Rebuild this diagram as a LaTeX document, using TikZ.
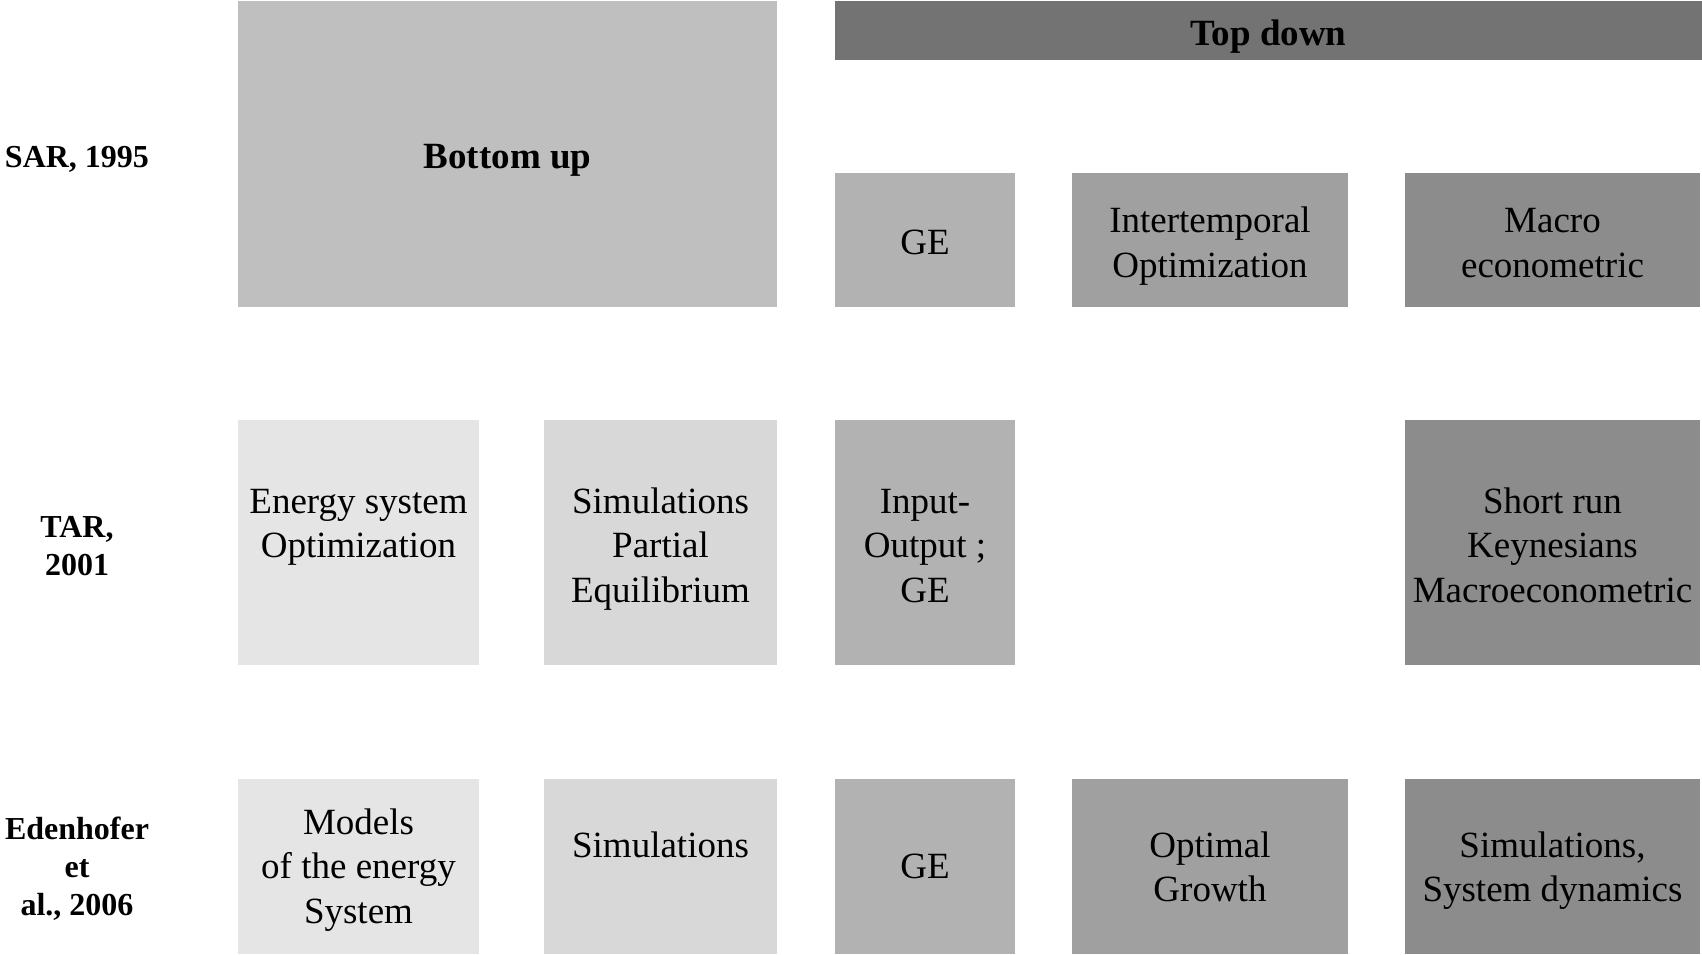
\documentclass[tikz,border=0pt]{standalone}
\usepackage{fontspec}
\setmainfont{Liberation Serif}
\definecolor{cBU}{gray}{0.749}
\definecolor{cTD}{gray}{0.451}
\definecolor{cGE}{gray}{0.698}
\definecolor{cIT}{gray}{0.627}
\definecolor{cMA}{gray}{0.549}
\definecolor{cES}{gray}{0.898}
\definecolor{cSP}{gray}{0.847}
\begin{document}
\begin{tikzpicture}[x=0.5pt,y=-0.5pt,
  box/.style={draw=none, inner sep=0pt, outer sep=0pt},
  body/.style={font=\fontsize{18.5}{22.25}\selectfont, align=center, anchor=base, inner sep=0pt},
  head/.style={font=\fontsize{18.5}{22.25}\selectfont\bfseries, anchor=base, inner sep=0pt},
  rowlab/.style={font=\fontsize{16}{19}\selectfont\bfseries, align=center, anchor=base, inner sep=0pt}]
\useasboundingbox (0,0) rectangle (1702,954);
% row 1 (SAR, 1995)
\node[box, fill=cBU, minimum width=269.5pt, minimum height=153pt] (bu) at (507.5,154) {};
\node[box, fill=cTD, minimum width=433.5pt, minimum height=29.5pt] (td) at (1268.5,30.5) {};
\node[box, fill=cGE, minimum width=90pt, minimum height=67pt] (ge1) at (925,240) {};
\node[box, fill=cIT, minimum width=138pt, minimum height=67pt] (it) at (1210,240) {};
\node[box, fill=cMA, minimum width=147.5pt, minimum height=67pt] (ma) at (1552.5,240) {};
% row 2 (TAR, 2001)
\node[box, fill=cES, minimum width=120.5pt, minimum height=122.5pt] (es) at (358.5,542.5) {};
\node[box, fill=cSP, minimum width=116.5pt, minimum height=122.5pt] (sp) at (660.5,542.5) {};
\node[box, fill=cGE, minimum width=90pt, minimum height=122.5pt] (io) at (925,542.5) {};
\node[box, fill=cMA, minimum width=147.5pt, minimum height=122.5pt] (sr) at (1552.5,542.5) {};
% row 3 (Edenhofer et al., 2006)
\node[box, fill=cES, minimum width=120.5pt, minimum height=87.5pt] (mo) at (358.5,866.5) {};
\node[box, fill=cSP, minimum width=116.5pt, minimum height=87.5pt] (si) at (660.5,866.5) {};
\node[box, fill=cGE, minimum width=90pt, minimum height=87.5pt] (ge2) at (925,866.5) {};
\node[box, fill=cIT, minimum width=138pt, minimum height=87.5pt] (og) at (1210,866.5) {};
\node[box, fill=cMA, minimum width=147.5pt, minimum height=87.5pt] (sd) at (1552.5,866.5) {};
% texts (anchor=base is the baseline of the last line)
\node[head] (tbu) at (bu.center |- 0,168) {Bottom up};
\node[head] (ttd) at (td.center |- 0,45) {Top down};
\node[body] (tge1) at (ge1.center |- 0,254) {GE};
\node[body] (tit) at (it.center |- 0,277) {Intertemporal\\Optimization};
\node[body] (tma) at (ma.center |- 0,277) {Macro\\econometric};
\node[body] (tes) at (es.center |- 0,557.5) {Energy system\\Optimization};
\node[body] (tsp) at (sp.center |- 0,602) {Simulations\\Partial\\Equilibrium};
\node[body] (tio) at (io.center |- 0,602) {Input-\\Output ;\\GE};
\node[body] (tsr) at (sr.center |- 0,602) {Short run\\Keynesians\\Macroeconometric};
\node[body] (tmo) at (mo.center |- 0,923) {Models\\of the energy\\System};
\node[body] (tsi) at (si.center |- 0,857) {Simulations};
\node[body] (tge2) at (ge2.center |- 0,878.5) {GE};
\node[body] (tog) at (og.center |- 0,901.5) {Optimal\\Growth};
\node[body] (tsd) at (sd.center |- 0,901.5) {Simulations,\\System dynamics};
% row labels
\node[rowlab] (l1) at (77,167) {SAR, 1995};
\node[rowlab] (l2) at (77,575) {TAR,\\2001};
\node[rowlab] (l3) at (77,915) {Edenhofer\\et\\al., 2006};
\end{tikzpicture}
\end{document}
